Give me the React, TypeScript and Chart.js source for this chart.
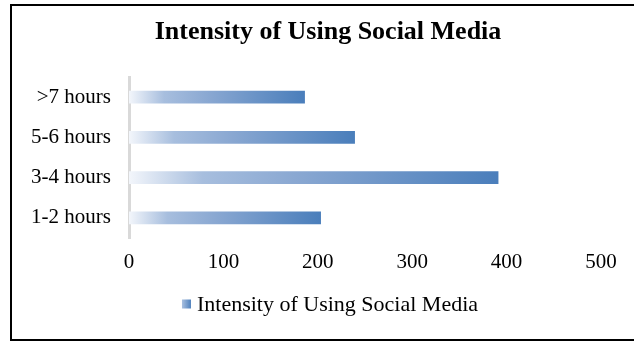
import React, { useEffect, useRef } from "react";
import { Chart, registerables } from "chart.js";

Chart.register(...registerables);

const categories = [">7 hours", "5-6 hours", "3-4 hours", "1-2 hours"];
const values = [186, 239, 391, 203];
const seriesName = "Intensity of Using Social Media";
const titleText = "Intensity of Using Social Media";
const xMin = 0;
const xMax = 500;
const xStep = 100;

const FONT = "'Liberation Serif', 'Times New Roman', serif";

function barGradient(ctx: CanvasRenderingContext2D, x0: number, x1: number) {
  const g = ctx.createLinearGradient(x0, 0, x1, 0);
  g.addColorStop(0, "#f3f6fb");
  g.addColorStop(0.2, "#a7bede");
  g.addColorStop(0.45, "#8aa8d2");
  g.addColorStop(1, "#4a7ebb");
  return g;
}

const framePlugin = {
  id: "frame",
  beforeDraw(chart: any) {
    const ctx = chart.ctx;
    ctx.save();
    ctx.fillStyle = "#ffffff";
    ctx.fillRect(0, 0, chart.width, chart.height);
    ctx.strokeStyle = "#000000";
    ctx.lineWidth = 2;
    ctx.strokeRect(11, 5, chart.width + 20, chart.height - 6);
    ctx.restore();
  },
};

// Title and legend drawn at the reference's (off-centre) positions
const titleLegendPlugin = {
  id: "titleLegend",
  afterDraw(chart: any) {
    const ctx = chart.ctx;
    ctx.save();
    ctx.fillStyle = "#000";
    ctx.textBaseline = "middle";
    ctx.textAlign = "center";
    ctx.font = `bold 26px ${FONT}`;
    ctx.fillText(titleText, 328, 32);

    ctx.font = `22px ${FONT}`;
    const label = chart.data.datasets[0].label as string;
    const tw = ctx.measureText(label).width;
    const box = 9;
    const gap = 6;
    const total = box + gap + tw;
    const left = 330 - total / 2;
    const cy = 304;
    const g = ctx.createLinearGradient(left, 0, left + box, 0);
    g.addColorStop(0, "#a9c0e0");
    g.addColorStop(1, "#4f81bd");
    ctx.fillStyle = g;
    ctx.fillRect(left, cy - box / 2, box, box);
    ctx.fillStyle = "#000";
    ctx.textAlign = "left";
    ctx.fillText(label, left + box + gap, cy + 1);
    ctx.restore();
  },
};

export default function App() {
  const ref = useRef<HTMLCanvasElement>(null);
  useEffect(() => {
    document.body.style.margin = "0";
    const chart = new Chart(ref.current!, {
      type: "bar",
      data: {
        labels: categories,
        datasets: [
          {
            label: seriesName,
            data: values,
            barThickness: 12,
            backgroundColor: (ctx: any) => {
              const ch = ctx.chart;
              const xs = ch.scales && ch.scales.x;
              if (!xs || ctx.raw == null) return "#4f81bd";
              const x0 = xs.getPixelForValue(0);
              const x1 = xs.getPixelForValue(ctx.raw);
              if (!isFinite(x0) || !isFinite(x1) || x1 === x0) return "#4f81bd";
              return barGradient(ch.ctx, x0, x1);
            },
          },
        ],
      },
      options: {
        indexAxis: "y",
        animation: false,
        responsive: true,
        maintainAspectRatio: false,
        layout: { padding: { left: 0, right: 33, top: 77, bottom: 67 } },
        scales: {
          x: {
            min: xMin,
            max: xMax,
            ticks: {
              stepSize: xStep,
              color: "#000",
              padding: 12,
              font: { family: FONT, size: 21, lineHeight: 1.2 },
            },
            grid: { display: false, drawTicks: false },
            border: { display: false },
            afterFit: (scale: any) => {
              scale.height = 36;
            },
          },
          y: {
            ticks: {
              color: "#000",
              padding: 18,
              font: { family: FONT, size: 21 },
            },
            grid: { display: false, drawTicks: false },
            border: { display: true, color: "#d9d9d9", width: 3 },
            afterFit: (scale: any) => {
              scale.width = 129;
            },
          },
        },
        plugins: {
          title: { display: false },
          legend: { display: false },
          tooltip: { enabled: false },
        },
      },
      plugins: [framePlugin, titleLegendPlugin],
    } as any);
    return () => chart.destroy();
  }, []);
  return (
    <div style={{ position: "relative", width: 634, height: 341 }}>
      <canvas ref={ref} />
    </div>
  );
}
